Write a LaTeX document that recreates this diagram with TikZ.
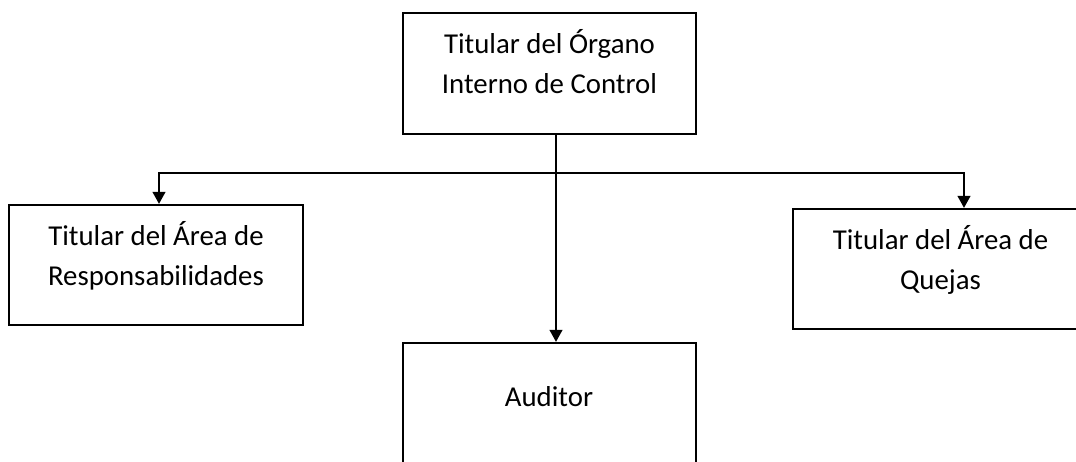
\documentclass[tikz,border=0pt]{standalone}
\usepackage{fontspec}
\setmainfont{Carlito}
\usetikzlibrary{arrows.meta,positioning}

\begin{document}
\begin{tikzpicture}[x=0.5pt, y=-0.5pt,
        box/.style={draw, rectangle, line width=1.2pt, minimum width=146.5pt, minimum height=60.5pt},
        boxtext/.style={align=center, inner sep=0pt, font=\fontsize{14.4}{20}\selectfont},
        link/.style={-{Triangle[width=6.5pt,length=6pt]}, line width=0.6pt}]
        \useasboundingbox (0,0) rectangle (1076,461);

        % boxes
        \node [box] (organo) at (549.5,73.5) {};
        \node [box, minimum width=147pt, minimum height=60pt] (resp) at (156,265) {};
        \node [box, minimum width=147.5pt, minimum height=60pt] (quejas) at (940.5,269) {};
        \node [box] (auditor) at (549.5,403.5) {};

        % texts
        \node [boxtext] (organotxt) at (549.5,62) {Titular del Órgano\\Interno de Control};
        \node [boxtext] (resptxt) at (156,255.5) {Titular del Área de\\Responsabilidades};
        \node [boxtext] (quejastxt) at (940.5,259.5) {Titular del Área de\\Quejas};
        \node [boxtext] (auditortxt) at (549,397) {Auditor};

        % connectors
        \coordinate (split) at (556,173);
        \draw[link] (organo.south -| split) -- (auditor.north -| split);
        \draw[link] (split) -| ([xshift=1.5pt]resp.north);
        \draw[link] (split) -| ([xshift=11.75pt]quejas.north);
    \end{tikzpicture}
\end{document}
